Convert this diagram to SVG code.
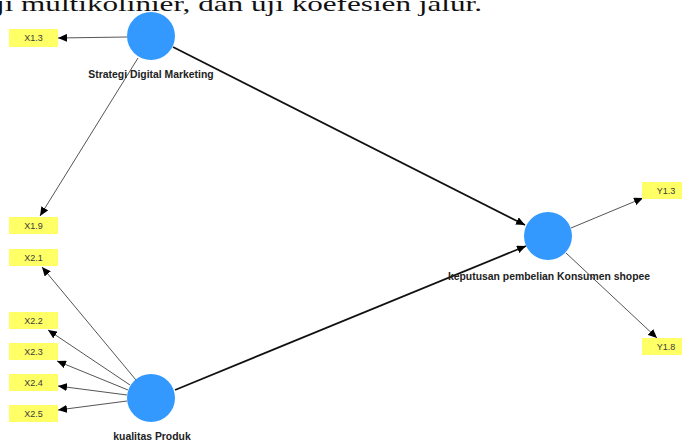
<svg xmlns="http://www.w3.org/2000/svg" width="682" height="441" viewBox="0 0 682 441">
<defs>
<style>
.ind{fill:#ffff66;}
.it{font-family:"Liberation Sans",Arial,sans-serif;font-size:9px;fill:#3a3a3a;text-anchor:middle;}
.lat{fill:#3399ff;}
.lt{font-family:"Liberation Sans",Arial,sans-serif;font-size:10.4px;font-weight:bold;fill:#222;text-anchor:middle;}
.thin{stroke:#555;stroke-width:1;fill:none;marker-end:url(#ah);}
.thick{stroke:#111;stroke-width:1.8;fill:none;marker-end:url(#ah);}
</style>
<marker id="ah" markerUnits="userSpaceOnUse" markerWidth="10" markerHeight="8" refX="9" refY="4" orient="auto">
<path d="M0,0 L9,4 L0,8 Z" fill="#000"/>
</marker>
</defs>
<rect width="682" height="441" fill="#fff"/>
<text x="-4" y="11" font-family="'Liberation Serif',serif" font-size="22" fill="#111" textLength="486" lengthAdjust="spacingAndGlyphs">ji multikolinier, dan uji koefesien jalur.</text>
<g id="connectors">
<line class="thin" x1="127" y1="37" x2="58" y2="38"/>
<line class="thin" x1="138" y1="58" x2="40" y2="216"/>
<line class="thick" x1="173" y1="47" x2="525" y2="225"/>
<line class="thick" x1="175" y1="390" x2="526" y2="246"/>
<line class="thin" x1="136" y1="380" x2="42" y2="267"/>
<line class="thin" x1="130" y1="385" x2="48" y2="330"/>
<line class="thin" x1="128" y1="390" x2="57" y2="361"/>
<line class="thin" x1="127" y1="395" x2="58" y2="386"/>
<line class="thin" x1="127" y1="401" x2="58" y2="410"/>
<line class="thin" x1="571" y1="228" x2="643" y2="198"/>
<line class="thin" x1="566" y1="253" x2="657" y2="338"/>
</g>
<g id="X1.3"><rect class="ind" x="9" y="29" width="49" height="18"/><text class="it" x="33.5" y="41">X1.3</text></g>
<g id="X1.9"><rect class="ind" x="9" y="217" width="49" height="17"/><text class="it" x="33.5" y="229">X1.9</text></g>
<g id="X2.1"><rect class="ind" x="9" y="249" width="49" height="17"/><text class="it" x="33.5" y="261">X2.1</text></g>
<g id="X2.2"><rect class="ind" x="9" y="312" width="49" height="17"/><text class="it" x="33.5" y="324">X2.2</text></g>
<g id="X2.3"><rect class="ind" x="9" y="343" width="49" height="17"/><text class="it" x="33.5" y="355">X2.3</text></g>
<g id="X2.4"><rect class="ind" x="9" y="374" width="49" height="17"/><text class="it" x="33.5" y="386">X2.4</text></g>
<g id="X2.5"><rect class="ind" x="9" y="405" width="49" height="17"/><text class="it" x="33.5" y="417">X2.5</text></g>
<g id="Y1.3"><rect class="ind" x="642" y="182" width="49" height="17"/><text class="it" x="666" y="194">Y1.3</text></g>
<g id="Y1.8"><rect class="ind" x="642" y="338" width="49" height="17"/><text class="it" x="666" y="350">Y1.8</text></g>
<g id="strategi"><circle class="lat" cx="151" cy="36" r="24"/><text class="lt" x="151" y="78">Strategi Digital Marketing</text></g>
<g id="kualitas"><circle class="lat" cx="151" cy="398" r="24"/><text class="lt" x="152" y="440">kualitas Produk</text></g>
<g id="keputusan"><circle class="lat" cx="548" cy="236" r="24"/><text class="lt" x="549" y="280">keputusan pembelian Konsumen shopee</text></g>
</svg>
